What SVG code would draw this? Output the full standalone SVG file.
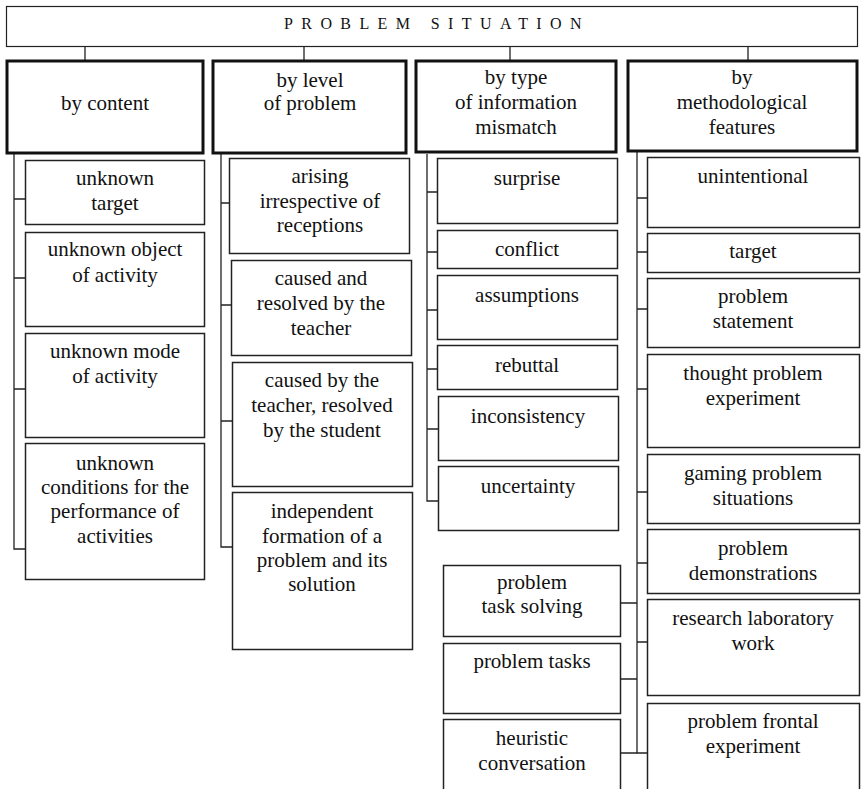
<svg xmlns="http://www.w3.org/2000/svg" width="861" height="789" viewBox="0 0 861 789">
<style>
text{font-family:'Liberation Serif','Times New Roman',Times,'DejaVu Serif',serif;font-size:21px;fill:#111;text-anchor:middle}
.title{font-size:16px;letter-spacing:8.4px}
.top{fill:#fff;stroke:#222;stroke-width:1.2}
.cat{fill:#fff;stroke:#111;stroke-width:3}
.box{fill:#fff;stroke:#222;stroke-width:1.5}
.ln{fill:none;stroke:#222;stroke-width:1.3}
</style>
<rect width="861" height="789" fill="#fff"/>
<g id="connectors">
<path class="ln" d="M85,47V60M304,47V60M510,47V60M748,47V60"/>
<path class="ln" d="M14,154V549H25M14,199H25M14,278H25M14,389H25"/>
<path class="ln" d="M221,154V547H232M221,203H229M221,305H231M221,421H232"/>
<path class="ln" d="M427,154V501H438M427,192H437M427,252H437M427,310H437M427,369H437M427,429H438"/>
<path class="ln" d="M637,152V753H647M637,198H647M637,252H647M637,309H647M637,389H647M637,492H647M637,563H647M637,642H647"/>
<path class="ln" d="M620,603H637M620,679H637M620,753H637"/>
</g>
<g id="root">
<rect class="top" x="6.5" y="6.5" width="851" height="40"/>
<text class="title" x="437" y="29" font-family="Liberation Serif">PROBLEM SITUATION</text>
</g>
<g id="cat-content"><rect class="cat" x="7" y="61" width="196" height="92"/><text x="105" y="110">by content</text></g>
<g id="cat-level"><rect class="cat" x="213" y="61" width="193" height="92"/><text x="310" y="87">by level</text><text x="310" y="110">of problem</text></g>
<g id="cat-type"><rect class="cat" x="416" y="61" width="200" height="91"/><text x="516" y="84">by type</text><text x="516" y="109">of information</text><text x="516" y="134">mismatch</text></g>
<g id="cat-method"><rect class="cat" x="628" y="61" width="229" height="90"/><text x="742" y="84">by</text><text x="742" y="109">methodological</text><text x="742" y="134">features</text></g>

<g id="c1-target"><rect class="box" x="25.5" y="160.5" width="179" height="64"/><text x="115" y="185">unknown</text><text x="115" y="210">target</text></g>
<g id="c1-object"><rect class="box" x="25.5" y="232.5" width="179" height="94"/><text x="115" y="256">unknown object</text><text x="115" y="282">of activity</text></g>
<g id="c1-mode"><rect class="box" x="25.5" y="333.5" width="179" height="104"/><text x="115" y="358">unknown mode</text><text x="115" y="383">of activity</text></g>
<g id="c1-conditions"><rect class="box" x="25.5" y="443.5" width="179" height="136"/><text x="115" y="470">unknown</text><text x="115" y="494">conditions for the</text><text x="115" y="518">performance of</text><text x="115" y="543">activities</text></g>

<g id="c2-arising"><rect class="box" x="229.5" y="158.5" width="180" height="95"/><text x="320" y="183">arising</text><text x="320" y="208">irrespective of</text><text x="320" y="232">receptions</text></g>
<g id="c2-teacher"><rect class="box" x="231.5" y="260.5" width="180" height="95"/><text x="321" y="285">caused and</text><text x="321" y="310">resolved by the</text><text x="321" y="335">teacher</text></g>
<g id="c2-student"><rect class="box" x="232.5" y="362.5" width="180" height="124"/><text x="322" y="387">caused by the</text><text x="322" y="412">teacher, resolved</text><text x="322" y="437">by the student</text></g>
<g id="c2-independent"><rect class="box" x="232.5" y="492.5" width="180" height="157"/><text x="322" y="518">independent</text><text x="322" y="543">formation of a</text><text x="322" y="567">problem and its</text><text x="322" y="591">solution</text></g>

<g id="c3-surprise"><rect class="box" x="437.5" y="158.5" width="180" height="65"/><text x="527" y="185">surprise</text></g>
<g id="c3-conflict"><rect class="box" x="437.5" y="230.5" width="180" height="38"/><text x="527" y="256">conflict</text></g>
<g id="c3-assumptions"><rect class="box" x="437.5" y="275.5" width="180" height="64"/><text x="527" y="302">assumptions</text></g>
<g id="c3-rebuttal"><rect class="box" x="437.5" y="345.5" width="180" height="44"/><text x="527" y="372">rebuttal</text></g>
<g id="c3-inconsistency"><rect class="box" x="438.5" y="396.5" width="180" height="64"/><text x="528" y="423">inconsistency</text></g>
<g id="c3-uncertainty"><rect class="box" x="438.5" y="466.5" width="180" height="64"/><text x="528" y="493">uncertainty</text></g>

<g id="c3-tasksolving"><rect class="box" x="443.5" y="565.5" width="177" height="71"/><text x="532" y="589">problem</text><text x="532" y="613">task solving</text></g>
<g id="c3-tasks"><rect class="box" x="443.5" y="643.5" width="177" height="70"/><text x="532" y="668">problem tasks</text></g>
<g id="c3-heuristic"><rect class="box" x="443.5" y="719.5" width="177" height="80"/><text x="532" y="745">heuristic</text><text x="532" y="770">conversation</text></g>

<g id="c4-unintentional"><rect class="box" x="647.5" y="157.5" width="212" height="70"/><text x="753" y="183">unintentional</text></g>
<g id="c4-target"><rect class="box" x="647.5" y="233.5" width="212" height="39"/><text x="753" y="258">target</text></g>
<g id="c4-statement"><rect class="box" x="647.5" y="278.5" width="212" height="69"/><text x="753" y="303">problem</text><text x="753" y="328">statement</text></g>
<g id="c4-thought"><rect class="box" x="647.5" y="354.5" width="212" height="93"/><text x="753" y="380">thought problem</text><text x="753" y="405">experiment</text></g>
<g id="c4-gaming"><rect class="box" x="647.5" y="454.5" width="212" height="69"/><text x="753" y="480">gaming problem</text><text x="753" y="505">situations</text></g>
<g id="c4-demonstrations"><rect class="box" x="647.5" y="529.5" width="212" height="64"/><text x="753" y="555">problem</text><text x="753" y="580">demonstrations</text></g>
<g id="c4-research"><rect class="box" x="647.5" y="599.5" width="212" height="96"/><text x="753" y="625">research laboratory</text><text x="753" y="650">work</text></g>
<g id="c4-frontal"><rect class="box" x="647.5" y="703.5" width="212" height="96"/><text x="753" y="728">problem frontal</text><text x="753" y="753">experiment</text></g>
</svg>
